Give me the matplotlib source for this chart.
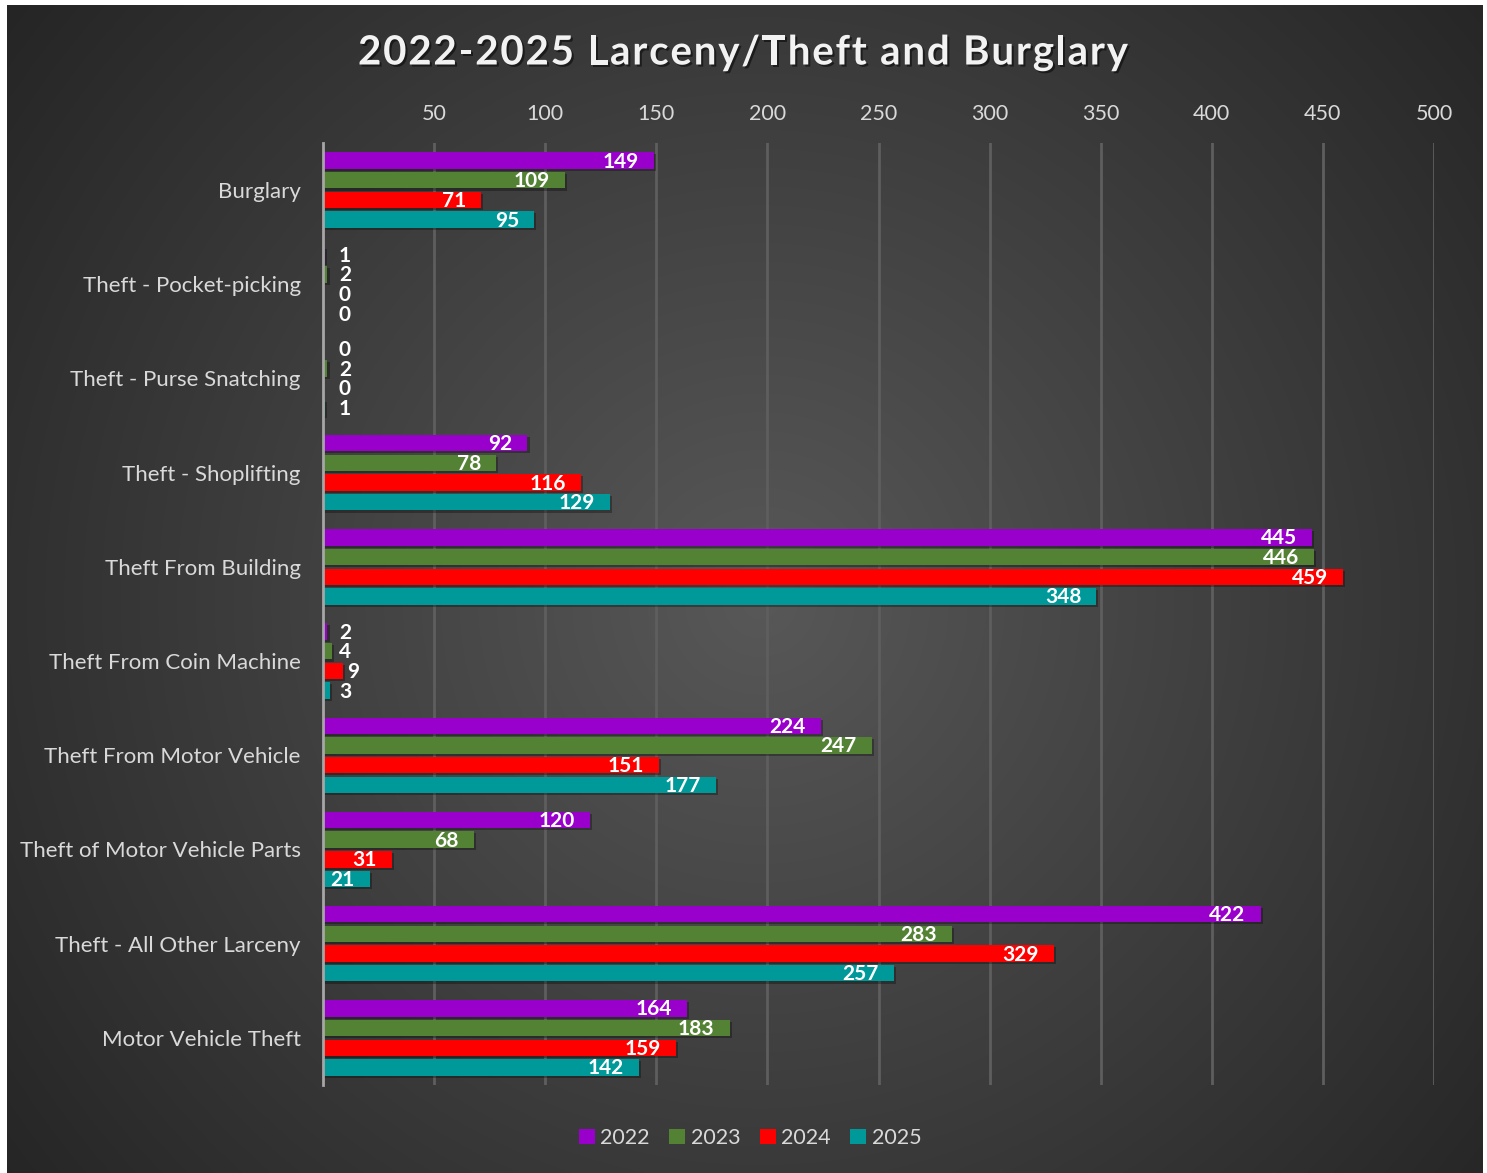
import numpy as np
import matplotlib.pyplot as plt
import matplotlib.patheffects as pe
from matplotlib.patches import Patch

# --------------------------------------------------
# Data
# --------------------------------------------------

categories = [
    "Burglary",
    "Theft - Pocket-picking",
    "Theft - Purse Snatching",
    "Theft - Shoplifting",
    "Theft From Building",
    "Theft From Coin Machine",
    "Theft From Motor Vehicle",
    "Theft of Motor Vehicle Parts",
    "Theft - All Other Larceny",
    "Motor Vehicle Theft",
]

years = ["2022", "2023", "2024", "2025"]

vals_2022 = [149, 1, 0, 92, 445, 2, 224, 120, 422, 164]
vals_2023 = [109, 2, 2, 78, 446, 4, 247, 68, 283, 183]
vals_2024 = [71, 0, 0, 116, 459, 9, 151, 31, 329, 159]
vals_2025 = [95, 0, 1, 129, 348, 3, 177, 21, 257, 142]

series = [vals_2022, vals_2023, vals_2024, vals_2025]
colors = ["#9900CC", "#548235", "#FF0000", "#009999"]

x_ticks = [50, 100, 150, 200, 250, 300, 350, 400, 450, 500]

TITLE = "2022-2025 Larceny/Theft and Burglary"

FONT = ["Lato", "DejaVu Sans"]
plt.rcParams["font.family"] = FONT

W, H = 1487, 1173
fig = plt.figure(figsize=(W / 100, H / 100), dpi=100, facecolor="white")

# ---------- background with radial gradient ----------
bx0, bx1, by0, by1 = 7, 1483, 5, 1173
bg = fig.add_axes([bx0 / W, 1 - by1 / H, (bx1 - bx0) / W, (by1 - by0) / H])
bw, bh = bx1 - bx0, by1 - by0
gx, gy = np.meshgrid(np.arange(bw), np.arange(bh))
cx, cy = 760 - bx0, 600 - by0
r = np.sqrt((gx - cx) ** 2 + (gy - cy) ** 2)
r = r / np.sqrt(max(cx, bw - cx) ** 2 + max(cy, bh - cy) ** 2)
c_in, c_out = 0x58 / 255, 0x25 / 255
shade = c_in + (c_out - c_in) * np.clip(r, 0, 1)
bg.imshow(np.dstack([shade, shade, shade]), aspect="auto", interpolation="bilinear")
bg.set_axis_off()

# --------------------------------------------------
# Plot
# --------------------------------------------------

left, right, top, bottom = 323, 1434, 143, 1085
ax = fig.add_axes([left / W, 1 - bottom / H, (right - left) / W, (bottom - top) / H])
ax.patch.set_alpha(0)

y = np.arange(len(categories))
pitch = 0.209
height = 0.175

shadow = [pe.SimplePatchShadow(offset=(1.5, -1.5), shadow_rgbFace="black", alpha=0.3), pe.Normal()]

for i, (vals, col) in enumerate(zip(series, colors)):
    pos = y + (i - 1.5) * pitch
    bars = ax.barh(pos, vals, height=height, color=col, zorder=3)
    for b, v in zip(bars, vals):
        if v > 0:
            b.set_path_effects(shadow)
    for p, v in zip(pos, vals):
        if v >= 15:
            ax.annotate(str(v), (v, p), xytext=(-15, -1), textcoords="offset pixels",
                        ha="right", va="center", color="white", fontsize=15,
                        fontweight="bold", zorder=5)
        else:
            ax.annotate(str(v), (max(v + 1.8, 7.2), p), xytext=(0, -1),
                        textcoords="offset pixels", ha="left", va="center",
                        color="white", fontsize=15, fontweight="bold", zorder=5)

ax.set_xlim(0, 500)
ax.set_ylim(len(categories) - 0.5, -0.5)

ax.xaxis.tick_top()
ax.set_xticks(x_ticks)
ax.set_xticklabels([str(t) for t in x_ticks], color="#d9d9d9", fontsize=15.5)
ax.set_yticks(y)
ax.set_yticklabels(categories, color="#d9d9d9", fontsize=16)
ax.tick_params(axis="x", length=0, pad=14)
ax.tick_params(axis="y", length=0, pad=16)

ax.grid(axis="x", color="#5e5e5e", linewidth=2, zorder=0)
for side in ["top", "right", "bottom"]:
    ax.spines[side].set_visible(False)
ax.spines["left"].set_color("#a6a6a6")
ax.spines["left"].set_linewidth(2)
ax.spines["left"].set_zorder(4)

# ---------- title (letter-spaced, drawn char by char) ----------
renderer = fig.canvas.get_renderer()
title_kw = dict(color="#f2f2f2", fontsize=29, fontweight="bold", va="center", ha="left",
                path_effects=[pe.withSimplePatchShadow(offset=(1.5, -1.5),
                                                       shadow_rgbFace="black", alpha=0.5)])
t_x0, t_x1, t_y = 358, 1128, 1 - 53 / H


def prefix_width(s):
    if not s:
        return 0.0
    t = fig.text(0, 0, s.replace(" ", "\u00a0"), **title_kw)
    w = t.get_window_extent(renderer).width
    t.remove()
    return w


full_w = prefix_width(TITLE)
spacing = (t_x1 - t_x0 - full_w) / (len(TITLE) - 1)
for k, ch in enumerate(TITLE):
    if ch == " ":
        continue
    xpx = t_x0 + prefix_width(TITLE[:k]) + k * spacing
    fig.text(xpx / W, t_y, ch, **title_kw)

# ---------- legend ----------
handles = [Patch(facecolor=c, edgecolor="none") for c in colors]
fig.legend(handles, years, loc="center", bbox_to_anchor=(750 / W, 1 - 1138 / H),
           ncol=4, frameon=False, fontsize=15.5, labelcolor="#d9d9d9",
           handlelength=0.75, handleheight=0.75, handletextpad=0.25,
           columnspacing=0.9)

plt.savefig("out.png", dpi=100, facecolor="white")
plt.close()
